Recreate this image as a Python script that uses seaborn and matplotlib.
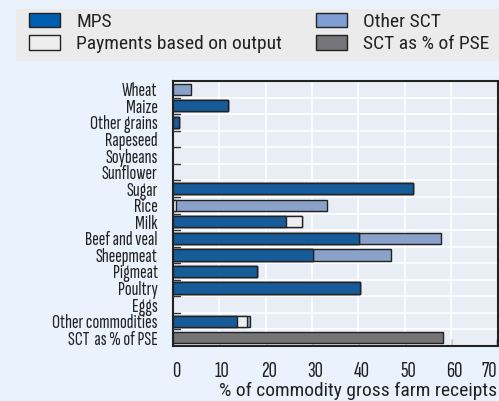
import matplotlib
matplotlib.use("Agg")
import matplotlib.pyplot as plt
import matplotlib.transforms as mtrans
import seaborn as sns
import pandas as pd
import numpy as np
from matplotlib.patches import Rectangle, Patch

categories = ["Wheat", "Maize", "Other grains", "Rapeseed", "Soybeans", "Sunflower",
              "Sugar", "Rice", "Milk", "Beef and veal", "Sheepmeat", "Pigmeat",
              "Poultry", "Eggs", "Other commodities", "SCT  as % of PSE"]
mps      = [0.0, 11.8, 1.3, 0, 0, 0, 51.8, 0.0, 24.4, 40.2, 30.3, 18.1, 40.4, 0, 13.9, 0]
payments = [0.0, 0, 0, 0, 0, 0, 0, 0.6, 3.4, 0, 0, 0, 0, 0, 2.0, 0]
other    = [3.9, 0, 0, 0, 0, 0, 0, 32.7, 0, 17.6, 16.8, 0, 0, 0, 0.8, 0]
sct_pse  = [0, 0, 0, 0, 0, 0, 0, 0, 0, 0, 0, 0, 0, 0, 0, 58.2]
xticks = [0, 10, 20, 30, 40, 50, 60, 70]

C_MPS = "#005eb0"
C_PAY = "#eeeeee"
C_OTH = "#7f9fd4"
C_SCT = "#757479"
EDGE = "#222222"
TXT = "#222222"
NARROW = ["Sofia Sans Extra Condensed", "DejaVu Sans"]
COND = ["Roboto Condensed", "DejaVu Sans"]

sns.set_theme(style="white")
plt.rcParams["font.family"] = COND

fig = plt.figure(figsize=(4.99, 4.01), dpi=100, facecolor="#eaf3fd")
ax = fig.add_axes([173/499, 1-346/401, (497.5-173)/499, (346-81)/401])
ax.set_facecolor("#e9edf5")

df = pd.DataFrame({"cat": categories, "mps": mps, "pay": payments, "oth": other, "sct": sct_pse})
df["l1"] = df["mps"] + df["pay"]
df["l2"] = df["l1"] + df["oth"]

kw = dict(orient="h", ax=ax, width=0.68, edgecolor=EDGE, linewidth=1.0, zorder=3)
sns.barplot(data=df, y="cat", x="l2", color=C_OTH, **kw)
sns.barplot(data=df, y="cat", x="l1", color=C_PAY, **kw)
sns.barplot(data=df, y="cat", x="mps", color=C_MPS, **kw)
sns.barplot(data=df, y="cat", x="sct", color=C_SCT, **kw)
for p in ax.patches:
    if p.get_width() <= 0:
        p.set_visible(False)

n = len(categories)
ax.set_xlim(0, 70)
ax.set_ylim(n - 0.5, -0.5)
ax.set_xticks(xticks)
ax.set_xticklabels([str(v) for v in xticks], family=NARROW, fontsize=16.5, color=TXT)
for x in xticks[1:-1]:
    ax.axvline(x, color="white", lw=1.2, zorder=1)
for y in np.arange(0.5, n - 0.5, 1):
    ax.axhline(y, color="white", lw=1.2, zorder=1)
    ax.plot([0, 1.5], [y, y], color="#333333", lw=1.0, zorder=4, clip_on=False)
ax.set_yticks(range(n))
ax.set_yticklabels(categories, family=NARROW, fontsize=14.5, color=TXT)
ax.tick_params(axis="y", length=0, pad=11)
ax.tick_params(axis="x", direction="in", length=5, width=1.0, color=TXT, pad=11.5, bottom=True)
shift = mtrans.ScaledTranslation(3/100, 0, fig.dpi_scale_trans)
for lbl in ax.get_xticklabels():
    lbl.set_transform(lbl.get_transform() + shift)
last = ax.get_xticklabels()[-1]
last.set_horizontalalignment("right")
last.set_transform(last.get_transform() + mtrans.ScaledTranslation(-3/100, 0, fig.dpi_scale_trans))

ax.set_xlabel("% of commodity gross farm receipts", fontsize=14, color=TXT, labelpad=1,
              loc="right")
ax.set_ylabel("")
for s in ax.spines.values():
    s.set_visible(True)
    s.set_color("#222222")
    s.set_linewidth(1.5)

fig.patches.append(Rectangle((16/499, 1-61/401), 483/499, 52/401, transform=fig.transFigure,
                             facecolor="#ebebeb", edgecolor="none", zorder=0))
handles = [Patch(facecolor=C_MPS, edgecolor=EDGE, label="MPS"),
           Patch(facecolor=C_PAY, edgecolor=EDGE, label="Payments based on output"),
           Patch(facecolor=C_OTH, edgecolor=EDGE, label="Other SCT"),
           Patch(facecolor=C_SCT, edgecolor=EDGE, label="SCT as % of PSE")]
leg = fig.legend(handles=handles, ncol=2, loc="upper left", bbox_to_anchor=(29/499, 1-13/401),
                 frameon=False, fontsize=14, handlelength=1.6, handleheight=0.77,
                 handletextpad=0.82, columnspacing=1.75, labelspacing=0.22, borderaxespad=0,
                 borderpad=0)
for t in leg.get_texts():
    t.set_color(TXT)

fig.savefig("out.png", dpi=100, facecolor=fig.get_facecolor())
